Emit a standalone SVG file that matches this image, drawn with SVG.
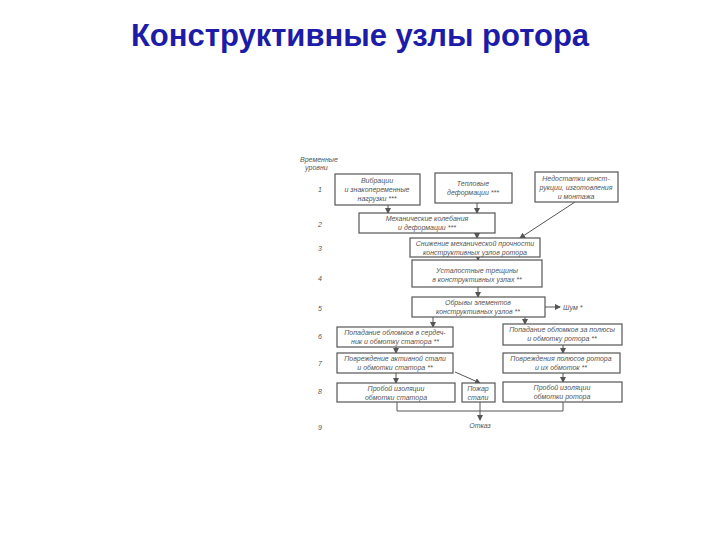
<svg xmlns="http://www.w3.org/2000/svg" width="720" height="540" viewBox="0 0 720 540">
<style>
.t{font-family:"Liberation Sans",Arial,sans-serif;font-weight:bold;font-size:31px;fill:#1c1ca8}
.b rect{fill:#fff;stroke:#555;stroke-width:1.2}
.b text,.l{font-family:"Liberation Sans",Arial,sans-serif;font-style:italic;font-size:7px;fill:#555}
#c line,#c polyline{stroke:#555;stroke-width:1;fill:none}
</style>
<defs><marker id="a" markerWidth="6" markerHeight="6" refX="5" refY="3" orient="auto"><path d="M0,0L6,3L0,6z" fill="#555"/></marker></defs>
<rect width="720" height="540" fill="#fff"/>
<text class="t" x="360" y="46" text-anchor="middle">Конструктивные узлы ротора</text>
<g class="l">
<text x="300" y="162">Временные</text><text x="305" y="170">уровни</text>
<text x="318" y="192">1</text><text x="318" y="227">2</text><text x="318" y="251">3</text><text x="318" y="281">4</text><text x="318" y="311">5</text><text x="318" y="339">6</text><text x="318" y="366">7</text><text x="318" y="394">8</text><text x="318" y="430">9</text>
</g>
<g id="c">
<line x1="388" y1="205" x2="388" y2="213" marker-end="url(#a)"/>
<line x1="477" y1="203" x2="477" y2="213" marker-end="url(#a)"/>
<line x1="575" y1="202" x2="520" y2="238" marker-end="url(#a)"/>
<line x1="477" y1="233" x2="477" y2="238" marker-end="url(#a)"/>
<line x1="478" y1="257" x2="478" y2="260" marker-end="url(#a)"/>
<line x1="478" y1="287" x2="478" y2="297" marker-end="url(#a)"/>
<line x1="545" y1="307" x2="560" y2="307" marker-end="url(#a)"/>
<line x1="433" y1="317" x2="433" y2="327" marker-end="url(#a)"/>
<line x1="525" y1="317" x2="525" y2="324" marker-end="url(#a)"/>
<line x1="396" y1="347" x2="396" y2="353" marker-end="url(#a)"/>
<line x1="563" y1="345" x2="563" y2="353" marker-end="url(#a)"/>
<line x1="396" y1="373" x2="396" y2="383" marker-end="url(#a)"/>
<line x1="455" y1="372" x2="480" y2="383" marker-end="url(#a)"/>
<line x1="563" y1="373" x2="563" y2="382" marker-end="url(#a)"/>
<polyline points="397,402 397,411 563,411 563,402"/>
<line x1="480" y1="402" x2="480" y2="411"/>
<line x1="480" y1="411" x2="480" y2="420" marker-end="url(#a)"/>
</g>
<g id="n1a" class="b"><rect x="335" y="174" width="85" height="31"/><text x="377" y="183" text-anchor="middle">Вибрации</text><text x="377" y="192" text-anchor="middle">и знакопеременные</text><text x="377" y="201" text-anchor="middle">нагрузки ***</text></g>
<g id="n1b" class="b"><rect x="435" y="173" width="77" height="30"/><text x="473" y="186" text-anchor="middle">Тепловые</text><text x="473" y="195" text-anchor="middle">деформации ***</text></g>
<g id="n1c" class="b"><rect x="535" y="172" width="83" height="30"/><text x="576" y="181" text-anchor="middle">Недостатки конст-</text><text x="576" y="190" text-anchor="middle">рукции, изготовления</text><text x="576" y="199" text-anchor="middle">и монтажа</text></g>
<g id="n2" class="b"><rect x="359" y="213" width="136" height="20"/><text x="427" y="221" text-anchor="middle">Механические колебания</text><text x="427" y="230" text-anchor="middle">и деформации ***</text></g>
<g id="n3" class="b"><rect x="410" y="238" width="130" height="19"/><text x="475" y="246" text-anchor="middle">Снижение механической прочности</text><text x="475" y="255" text-anchor="middle">конструктивных узлов ротора</text></g>
<g id="n4" class="b"><rect x="412" y="260" width="130" height="27"/><text x="477" y="273" text-anchor="middle">Усталостные трещины</text><text x="477" y="282" text-anchor="middle">в конструктивных узлах **</text></g>
<g id="n5" class="b"><rect x="412" y="297" width="133" height="20"/><text x="478" y="305" text-anchor="middle">Обрывы элементов</text><text x="478" y="314" text-anchor="middle">конструктивных узлов **</text></g>
<text class="l" x="563" y="310" font-size="8">Шум *</text>
<g id="n6l" class="b"><rect x="337" y="327" width="116" height="20"/><text x="395" y="335" text-anchor="middle">Попадание обломков в сердеч-</text><text x="395" y="344" text-anchor="middle">ник и обмотку статора **</text></g>
<g id="n6r" class="b"><rect x="503" y="324" width="119" height="21"/><text x="562" y="332" text-anchor="middle">Попадание обломков за полюсы</text><text x="562" y="341" text-anchor="middle">и обмотку ротора **</text></g>
<g id="n7l" class="b"><rect x="337" y="353" width="116" height="20"/><text x="395" y="361" text-anchor="middle">Повреждение активной стали</text><text x="395" y="370" text-anchor="middle">и обмотки статора **</text></g>
<g id="n7r" class="b"><rect x="503" y="353" width="117" height="20"/><text x="561" y="361" text-anchor="middle">Повреждения полюсов ротора</text><text x="561" y="370" text-anchor="middle">и их обмоток **</text></g>
<g id="n8l" class="b"><rect x="337" y="383" width="118" height="19"/><text x="396" y="391" text-anchor="middle">Пробой изоляции</text><text x="396" y="400" text-anchor="middle">обмотки статора</text></g>
<g id="n8m" class="b"><rect x="462" y="383" width="33" height="19"/><text x="478" y="391" text-anchor="middle">Пожар</text><text x="478" y="400" text-anchor="middle">стали</text></g>
<g id="n8r" class="b"><rect x="503" y="382" width="119" height="20"/><text x="562" y="390" text-anchor="middle">Пробой изоляции</text><text x="562" y="399" text-anchor="middle">обмотки ротора</text></g>
<text class="l" x="480" y="428" text-anchor="middle">Отказ</text>
</svg>
